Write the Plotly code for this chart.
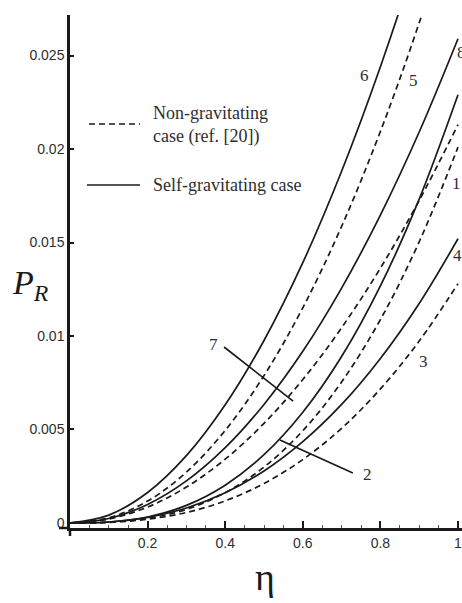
import plotly.graph_objects as go

# Dimensionless radius and radial pressure P_R
eta = [0.0, 0.1, 0.2, 0.3, 0.4, 0.5, 0.6, 0.7, 0.8, 0.9, 1.0]

# self-gravitating case (solid curves 6, 8, 2, 4)
p6 = [0.0, 0.00042, 0.00163, 0.00360, 0.00632, 0.00976, 0.01392, 0.01881, 0.02440, 0.03070, 0.03770]
p8 = [0.0, 0.00024, 0.00099, 0.00225, 0.00403, 0.00634, 0.00918, 0.01256, 0.01647, 0.02091, 0.02590]
p2 = [0.0, 0.00005, 0.00032, 0.00094, 0.00202, 0.00365, 0.00592, 0.00890, 0.01268, 0.01732, 0.02290]
p4 = [0.0, 0.00005, 0.00030, 0.00080, 0.00161, 0.00278, 0.00435, 0.00634, 0.00880, 0.01174, 0.01520]

# non-gravitating case (dashed curves 5, 7, 1, 3)
p5 = [0.0, 0.00028, 0.00117, 0.00272, 0.00495, 0.00788, 0.01151, 0.01586, 0.02094, 0.02675, 0.03330]
p7 = [0.0, 0.00021, 0.00085, 0.00192, 0.00341, 0.00533, 0.00767, 0.01044, 0.01363, 0.01725, 0.02130]
p1 = [0.0, 0.00004, 0.00024, 0.00073, 0.00162, 0.00299, 0.00493, 0.00754, 0.01088, 0.01504, 0.02010]
p3 = [0.0, 0.00003, 0.00020, 0.00056, 0.00118, 0.00211, 0.00339, 0.00506, 0.00717, 0.00973, 0.01280]

x_ticks = [0.2, 0.4, 0.6, 0.8, 1.0]
x_tick_text = ["0.2", "0.4", "0.6", "0.8", "1"]
y_ticks = [0, 0.005, 0.01, 0.015, 0.02, 0.025]
y_tick_text = ["0", "0.005", "0.01", "0.015", "0.02", "0.025"]

# curve number labels: (text, eta, P_R)
curve_labels = [
    ("6", 0.760, 0.02396),
    ("5", 0.884, 0.02369),
    ("8", 1.010, 0.02519),
    ("1", 0.997, 0.01818),
    ("4", 0.999, 0.01433),
    ("3", 0.910, 0.00861),
    ("2", 0.768, 0.00257),
    ("7", 0.369, 0.00952),
]
# leader lines: (eta0, P0, eta1, P1)
leaders = [
    (0.397, 0.00941, 0.575, 0.00652),
    (0.541, 0.00444, 0.729, 0.00267),
]

INK = "#1a1a1a"
TXT = "#2e2e2e"
SERIF = "Liberation Serif, Times New Roman, serif"
SANS = "Liberation Sans, Arial, sans-serif"
DASH = "6px,4px"

W, H = 462, 603
ML, MR, MT, MB = 70, 0, 15, 75
PW, PH = W - ML - MR, H - MT - MB


def px(x):
    return (x - ML) / PW


def py(y):
    return (H - MB - y) / PH


fig = go.Figure()

for vals, dash in [(p6, None), (p5, DASH), (p8, None), (p7, DASH),
                   (p2, None), (p1, DASH), (p4, None), (p3, DASH)]:
    fig.add_trace(go.Scatter(
        x=eta, y=vals, mode="lines", line_shape="spline",
        line=dict(color=INK, width=1.7, dash=dash),
        showlegend=False, hoverinfo="skip",
    ))

shapes = []
for e0, v0, e1, v1 in leaders:
    shapes.append(dict(type="line", xref="x", yref="y", x0=e0, y0=v0, x1=e1, y1=v1,
                       line=dict(color=INK, width=1.7)))

# axis overhangs at the origin
shapes.append(dict(type="line", xref="paper", yref="paper", x0=px(59), x1=0, y0=0, y1=0,
                   line=dict(color=INK, width=2.5)))
shapes.append(dict(type="line", xref="paper", yref="paper", x0=0, x1=0, y0=py(536), y1=0,
                   line=dict(color=INK, width=2.5)))

# key samples
shapes.append(dict(type="line", xref="paper", yref="paper", x0=px(89), x1=px(140),
                   y0=py(124), y1=py(124), line=dict(color=INK, width=1.7, dash=DASH)))
shapes.append(dict(type="line", xref="paper", yref="paper", x0=px(87), x1=px(140),
                   y0=py(185), y1=py(185), line=dict(color=INK, width=1.7)))

annotations = []
for txt, e, v in curve_labels:
    annotations.append(dict(text=txt, x=e, y=v, xref="x", yref="y", showarrow=False,
                            font=dict(family=SERIF, size=17, color=TXT)))

annotations.append(dict(text="Non-gravitating<br>case (ref. [20])", xref="paper", yref="paper",
                        x=px(151), y=py(125), xanchor="left", yanchor="middle", align="left",
                        showarrow=False, font=dict(family=SERIF, size=18, color=TXT)))
annotations.append(dict(text="Self-gravitating case", xref="paper", yref="paper",
                        x=px(151), y=py(185), xanchor="left", yanchor="middle",
                        showarrow=False, font=dict(family=SERIF, size=18, color=TXT)))

# axis titles
annotations.append(dict(text="<i>P</i><sub><i>R</i></sub>", xref="paper", yref="paper",
                        x=px(10), y=py(285), xanchor="left", showarrow=False,
                        font=dict(family=SERIF, size=34, color=INK)))
annotations.append(dict(text="η", xref="paper", yref="paper",
                        x=px(265), y=py(600), showarrow=False,
                        font=dict(family=SERIF, size=38, color=INK)))

fig.update_layout(
    width=W, height=H,
    margin=dict(l=ML, r=MR, t=MT, b=MB, pad=0),
    paper_bgcolor="white", plot_bgcolor="white",
    shapes=shapes, annotations=annotations,
    xaxis=dict(
        range=[0, 1.0103], showgrid=False, zeroline=False,
        showline=True, linecolor=INK, linewidth=2.5,
        ticks="inside", ticklen=7, tickwidth=1.5, tickcolor=INK,
        tickvals=x_ticks, ticktext=x_tick_text, ticklabeloverflow="allow",
        tickfont=dict(family=SANS, size=14, color=TXT),
        minor=dict(ticks="inside", ticklen=3, tickwidth=1, tickcolor="#555", dtick=0.05),
    ),
    yaxis=dict(
        range=[-0.00027, 0.02717], showgrid=False, zeroline=False,
        showline=True, linecolor=INK, linewidth=2.5,
        ticks="inside", ticklen=4, tickwidth=1.5, tickcolor=INK,
        tickvals=y_ticks, ticktext=y_tick_text,
        tickfont=dict(family=SANS, size=14, color=TXT),
    ),
)

fig.write_html("out.html")
